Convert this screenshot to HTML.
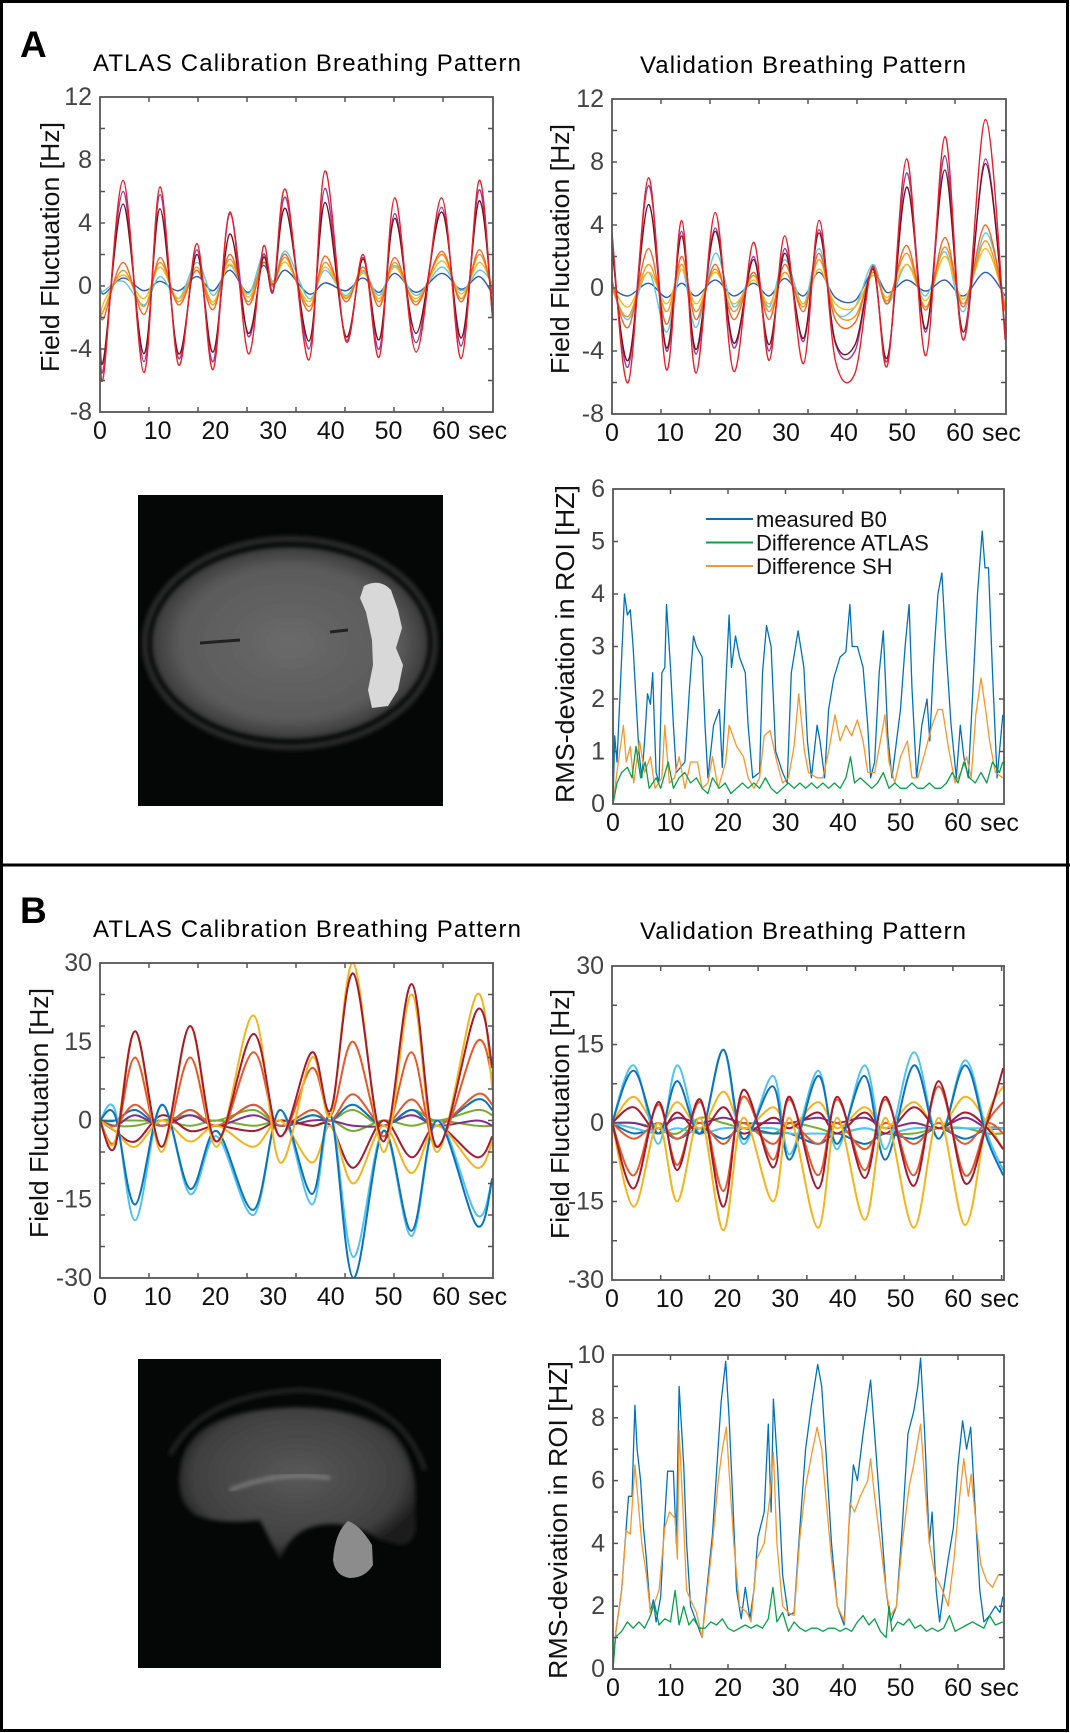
<!DOCTYPE html>
<html><head><meta charset="utf-8"><style>
html,body{margin:0;padding:0;background:#fff}
svg{display:block;font-family:"Liberation Sans",Arial,sans-serif}
</style></head><body>
<svg id="fig" xmlns="http://www.w3.org/2000/svg" width="1070" height="1733" viewBox="0 0 1070 1733">
<rect x="1.5" y="1.5" width="1066" height="1729" fill="#fff" stroke="#000" stroke-width="3"/>
<line x1="0" y1="865" x2="1070" y2="865" stroke="#000" stroke-width="3"/>
<text x="20" y="57" font-size="37" font-weight="bold">A</text>
<text x="20" y="923" font-size="37" font-weight="bold">B</text>
<text x="307" y="71" font-size="24" text-anchor="middle" textLength="428">ATLAS Calibration Breathing Pattern</text>
<text x="803" y="73" font-size="24" text-anchor="middle" textLength="326">Validation Breathing Pattern</text>
<text x="307" y="937" font-size="24" text-anchor="middle" textLength="428">ATLAS Calibration Breathing Pattern</text>
<text x="803" y="939" font-size="24" text-anchor="middle" textLength="326">Validation Breathing Pattern</text>

<g>
<defs>
<radialGradient id="brainA" cx="50%" cy="50%" r="50%"><stop offset="0" stop-color="#6a6a6a"/><stop offset="0.8" stop-color="#5a5a5a"/><stop offset="1" stop-color="#3a3a3a"/></radialGradient>
<radialGradient id="brainB" cx="50%" cy="45%" r="55%"><stop offset="0" stop-color="#585858"/><stop offset="0.8" stop-color="#404040"/><stop offset="1" stop-color="#1a1a1a"/></radialGradient>
<filter id="blr"><feGaussianBlur stdDeviation="2"/></filter>
</defs>
<rect x="138" y="495" width="305" height="311" fill="#050606"/>
<ellipse cx="290" cy="643" rx="145" ry="104" fill="none" stroke="#2a2a2a" stroke-width="6" filter="url(#blr)"/>
<ellipse cx="290" cy="643" rx="138" ry="96" fill="url(#brainA)" filter="url(#blr)"/>
<path d="M200 643 L240 640 M330 632 L348 630" stroke="#222" stroke-width="3"/>
<path d="M364 586 Q380 578 391 590 L398 610 L402 628 L396 648 L403 665 L398 690 L388 706 L372 708 L368 690 L373 665 L372 640 L366 612 L360 598 Z" fill="#d8d8d8"/>
</g>
<g>
<rect x="138" y="1359" width="303" height="309" fill="#050606"/>
<path d="M180 1470 Q185 1420 260 1410 Q340 1400 390 1430 Q420 1460 415 1510 Q420 1545 400 1545 L380 1540 Q350 1520 320 1525 Q290 1530 280 1560 L260 1520 Q220 1525 195 1515 Q175 1500 180 1470 Z" fill="url(#brainB)" filter="url(#blr)"/>
<path d="M170 1455 Q200 1395 300 1390 Q400 1395 425 1470" fill="none" stroke="#222" stroke-width="5" filter="url(#blr)"/>
<path d="M230 1490 Q280 1470 330 1478" fill="none" stroke="#8a8a8a" stroke-width="3" filter="url(#blr)"/>
<path d="M348 1521 Q360 1525 372 1545 L373 1565 Q365 1578 350 1578 Q335 1576 333 1560 Q335 1532 348 1521 Z" fill="#8c8c8c"/>
</g>
</svg>
<script>
const aCalT = [0,0.7,4.0,7.6,10.4,13.6,16.8,19.6,22.5,25.7,28.3,30.0,32.2,36.2,39.0,42.6,45.6,48.4,51.1,54.8,59.2,62.6,65.7,68];
const aCalBlue = [0,-0.5,0.5,-0.3,0.3,-0.3,0.6,-0.3,1.0,-0.4,1.3,0.1,1.0,-0.5,0.2,-0.3,0.5,-0.4,0.8,-0.4,0.8,-0.2,0.6,-0.5];
const aCalCyan = [-0.5,-0.3,0.3,-1.2,0.6,-0.8,1.5,-0.6,1.3,-0.5,2.0,0.3,2.2,-0.8,1.0,-0.6,0.9,-0.6,1.3,-0.6,1.2,-0.3,1.0,0.2];
const aCalYellow = [-2.2,-1,0.7,-0.8,1.2,-0.8,1.0,-1.0,1.4,-0.7,1.5,0.2,1.5,-1.0,1.2,-0.7,0.8,-0.8,1.2,-0.8,1.6,-0.5,1.5,0];
const aCalOrange = [-2,-1.5,1.0,-1.3,1.5,-1,1.2,-1.2,1.7,-1,1.8,0,1.8,-1.3,1.5,-0.8,1.0,-1.0,1.5,-1.0,2.0,-0.8,2.0,-0.3];
const aCalOrangeRed = [-1.5,-2,1.5,-1.8,1.8,-1.2,1.0,-1.5,2.0,-1.2,1.5,0,2.0,-1.6,1.9,-1.0,1.2,-1.3,1.8,-1.2,2.2,-1.0,2.3,-0.5];
const aCalPurple = [-3.8,-5,6.0,-4.8,5.8,-4.6,2.3,-4.8,4.6,-3.2,2.0,-0.4,5.6,-4.0,6.2,-3.4,1.8,-4.0,4.6,-3.6,5.0,-3.8,6.1,-1.8];
const aCalMaroon = [-3.5,-4.5,5.2,-4.3,4.9,-4.3,2.0,-4.2,3.3,-3.0,1.8,-0.3,4.9,-3.5,5.3,-3.2,1.7,-3.4,4.3,-3.0,4.7,-3.3,5.4,-1.5];
const aCalRed = [-4,-5.5,6.7,-5.5,6.3,-5.0,2.7,-5.3,4.7,-4.3,2.5,-0.3,6.1,-4.7,7.3,-3.5,2.0,-4.5,5.6,-4.2,5.6,-4.6,6.7,-2];
const aValT = [0,2.8,6.3,9.4,12.0,14.5,17.8,21,24.4,27.1,29.8,33,35.7,38.5,41.9,45,47.5,50.8,54.1,57.4,60.6,64.4,67.8];
const aValBlue = [0,-0.5,0.3,-0.6,0.3,-0.5,0.5,-0.5,0.3,-0.5,0.6,-0.5,1.0,-0.6,-0.8,1.0,-0.3,0.5,-0.2,0.5,-0.5,1.0,-0.5];
const aValCyan = [0,-2,1.0,-2.8,1.2,-2.5,2.2,-1.2,1.0,-1.2,1.8,-1.0,2.5,-1.5,-1.2,1.5,-1.0,1.5,-0.5,2.3,-1.5,3.5,-1];
const aValYellow = [0.2,-1.2,1.0,-1.0,1.2,-1,1.0,-1.0,0.5,-1.0,1.0,-1,1.2,-1,-1.2,0.8,-0.6,1.5,-0.8,2.0,-0.7,2.5,-1];
const aValOrange = [0,-1.8,1.5,-1.5,1.5,-1.5,1.2,-1.5,0.8,-1.5,1.0,-1.2,1.8,-1.5,-1.8,1.0,-0.8,2.2,-1.2,2.6,-1.0,3.0,-1.2];
const aValOrangeRed = [0.5,-2.5,2.5,-2.3,2.0,-2,1.5,-2,1.0,-2,1.5,-1.5,2.2,-2.0,-2.2,1.2,-1,2.7,-1.4,3.2,-1.2,4.0,-1.5];
const aValPurple = [2.8,-5,6.5,-4,3.6,-4.2,3.8,-3.8,2.0,-4.0,2.5,-3.4,3.7,-3.5,-4.0,1.3,-4.6,7.3,-2.8,8.4,-3.3,8.2,-3];
const aValMaroon = [2.5,-4.6,5.3,-3.8,3.3,-3.9,3.6,-3.5,1.8,-3.6,2.2,-3.2,3.5,-3.4,-3.6,1.2,-4.4,6.4,-2.6,7.5,-2.8,7.9,-2.8];
const aValRed = [3.5,-6.0,7.0,-5.2,4.3,-5.4,4.8,-5.3,2.9,-4.6,3.3,-4.8,4.3,-4.6,-5.4,1.4,-4.9,8.2,-4.3,9.6,-3.3,10.7,-3.3];
const aRmsBlueT = [0,0.3,0.7,1.3,2.0,2.5,3.0,3.5,4.0,4.5,5.0,5.5,6.0,6.5,6.9,7.2,7.5,8.0,8.5,9.0,9.3,10,10.5,11,12.5,13.3,14,14.5,15.5,16,16.5,17.5,18.5,19,19.7,20.2,20.6,21.3,22,23,23.5,24.3,25.5,26,26.7,27.5,28.3,29.5,30.3,31.0,32.2,33.2,33.8,34.5,35.5,36.0,36.8,37.5,38.4,39.5,40.5,41.2,41.6,42.5,43.5,44.3,44.8,45.5,46.3,47.0,47.8,48.5,50,50.8,51.5,52.0,52.8,53.7,54.6,55.1,55.8,56.5,57.2,57.9,58.8,59.7,60.4,61,61.8,62.5,63.4,64.2,64.7,65.3,66,66.8,67.8];
const aRmsBlueV = [0,1.3,0.8,2.3,4.0,3.6,3.7,3.0,2.0,1.0,0.5,1.2,2.1,1.9,2.5,1.5,0.6,0.4,2.5,2.6,3.8,2.6,1.5,0.6,0.8,2.2,3.2,3.0,2.8,1.5,0.5,1.5,1.8,0.7,2.5,3.6,2.6,3.2,2.8,2.5,1.5,0.5,0.6,2.5,3.4,3.0,1.0,0.6,0.4,2.5,3.3,2.6,1.2,0.5,1.5,1.2,0.5,1.8,2.4,2.8,2.9,3.8,3.0,3.0,2.6,1.5,0.5,0.8,2.5,3.3,1.3,0.5,1.8,3.0,3.8,2.2,0.5,1.5,2.0,1.2,2.8,4.0,4.4,3.0,1.5,0.5,1.5,0.9,0.5,2.0,4.0,5.2,4.5,4.5,2.5,0.5,1.7];
const aRmsOrangeT = [0,0.8,1.8,2.3,3.0,3.6,4.6,5.5,6.5,7.3,8.5,9.0,9.8,10.7,11.5,12.5,13.5,14.7,15.5,16.5,17.3,18.3,19.6,20.2,21.5,22.7,23.5,24.5,25.5,26.3,27.3,28.5,29.5,30.5,31.5,32.3,33.3,34.0,35.5,36.5,37.5,38.6,39.5,40.5,41.5,42.5,43.5,44.3,45.5,46.5,47.3,48.0,49.0,50.0,51.2,52.0,53,54.3,55.5,56.5,57.3,58.3,59.5,60.5,61.5,62.3,63.1,64.0,64.8,65.5,66.5,67.8];
const aRmsOrangeV = [0,0.7,1.5,0.8,1.1,0.4,1.2,0.6,0.9,0.3,0.5,1.5,0.4,0.5,0.9,0.3,0.8,0.8,0.3,0.4,0.9,0.3,0.8,1.5,1.1,0.9,0.5,0.3,0.5,1.3,1.4,0.8,0.4,0.5,1.1,2.1,1.0,0.6,0.5,0.5,1.0,1.7,1.2,1.5,1.3,1.6,1.2,0.6,0.6,1.2,1.7,0.8,0.4,0.9,1.2,0.5,0.5,1.0,1.5,1.8,1.8,1.1,0.4,0.6,0.9,0.5,1.7,2.4,1.8,1.2,0.6,0.5];
const aRmsGreenT = [0,0.7,1.5,2.5,3.3,4.0,4.8,5.6,6.3,7.5,8.3,9.6,10.5,11.5,12.5,13.5,14.5,15.5,16.5,17.3,18.5,19.5,20.5,21.5,22.5,23.5,24.5,25.5,26.5,27.5,28.5,29.5,30.5,31.5,32.5,33.5,34.5,35.5,36.5,37.5,38.5,39.5,40.5,41.3,42.0,43,44,45,46,47,48,49,50,51,52,53,54,55,56,57,58,59,60,61,62,63,64,65,66,67.2,67.8];
const aRmsGreenV = [0,0.4,0.6,0.7,0.5,1.1,0.5,0.8,0.3,0.5,0.3,0.8,0.3,0.5,0.6,0.4,0.5,0.3,0.2,0.5,0.3,0.4,0.2,0.3,0.4,0.3,0.4,0.3,0.5,0.3,0.2,0.3,0.4,0.3,0.4,0.3,0.4,0.3,0.4,0.3,0.4,0.3,0.5,0.9,0.4,0.5,0.4,0.3,0.4,0.6,0.3,0.4,0.3,0.3,0.4,0.3,0.3,0.4,0.3,0.3,0.4,0.6,0.4,0.8,0.5,0.4,0.6,0.4,0.8,0.6,0.8];
const bCalT = [0,2.6,6.1,10.7,15.6,20.2,26.6,31.2,36.7,40.0,43.9,49.1,54.0,58.4,65.3,68];
const bCalGreen2 = [0,-1,-1,0,-1,0,-1,0,-1,0,-2,0,-1,0,-1,-1];
const bCalGreen = [0,0,0,0,1,0,2,-1,1,0,2,-1,2,0,2,1];
const bCalPurple = [0,-1,1,-1,1,-1,1,-1,0,0,-1,-1,1,-1,0,-1];
const bCalBlueSmall = [0,0,2,-1,2,-1,3,-1,1,0,3,-1,2,-1,4,2];
const bCalOrangeSmall = [0,-1,3,-1,2,-1,3,-1,2,0,5,-1,4,-1,5,3];
const bCalRedNeg = [0,-2,-4,1,-2,-1,-2,0,-1,-1,-9,0,-7,-1,-7,-3];
const bCalYellowNeg = [0,-2,-5,0,-4,-1,-5,0,-8,-1,-12,-1,-10,-1,-9,-4];
const bCalLightBlue = [0,2,-19,3,-14,-3,-18,2,-16,1,-26,-2,-22,0,-18,-11];
const bCalBlue = [0,1,-16,3,-13,-2,-17,2,-14,1,-30,-2,-21,0,-20,-11];
const bCalOrange = [0,-4,12,-5,12,-4,13,-3,10,1,15,-3,13,-5,15,8];
const bCalYellow = [0,-4,17,-6,18,-5,20,-8,12,1,30,-6,24,-6,24,6];
const bCalDarkRed = [0,-5,17,-5,18,-4,16.5,-3,13,2,28,-4,26,-5,21,10];
const bValT = [0,3.8,8.0,11.3,15.3,19.3,22.7,27.9,30.8,35.7,39.0,43.8,47.4,52.3,56.6,61.2,65.0,67.8];
const bValGreen = [0,0,-1,-2,1,0,-1,-2,0,-1,-2,-1,-2,-2,-1,-1,-2,-2];
const bValPurple = [0,0,-1,1,0,1,0,0,0,1,0,1,-1,0,-1,1,-1,-1];
const bValBlue2 = [0,-2,-1,-3,-1,-3,-1,-2,-2,-4,-2,-4,-2,-3,-1,-3,-1,-1];
const bValCyan2 = [0,-1,-2,-1,-2,-1,-1,-1,-2,-2,-2,-1,-2,-1,-1,-1,-1,-1];
const bValOrangeNeg = [0,-3,0,-3,0,-4,0,-4,0,-4,0,-5,0,-4,0,-4,0,-2];
const bValYellowPos = [0,5,-1,4,-1,6,-1,3,-1,4,-1,3,-1,4,-1,5,0,-5];
const bValRedPos = [0,3,-2,2,-2,3,-2,1,-1,2,-2,2,-2,3,-1,2,-1,-5];
const bValLightBlue = [0,11,-4,11,-2,14,-4,9,-6,10,-5,11,-5,13.5,-3,12,-2,-9];
const bValBlue = [0,10,-2,8,-2,14,-3,7,-7,9,-4,9,-7,11,-3,11,-3,-10];
const bValYellow = [0,-16,0,-15,1,-20.5,1,-15,1,-20,1,-18.5,1,-20,1,-19.5,1,7];
const bValOrange = [0,-10,3.5,-8,4,-13,5,-7,4.5,-10,4.5,-9,4.5,-10,7,-10,0,4];
const bValDarkRed = [0,-12.5,4,-9,4.5,-16,6.3,-8.5,5,-12.5,5,-10.5,5,-12,8,-11.5,0,10.5];
const bRmsBlueT = [0,0.5,1.5,2.3,2.7,3.3,3.8,4.2,4.8,5.3,5.8,6.5,7.0,7.5,8.3,8.8,9.5,10.5,11.0,11.5,12.3,12.8,13.5,14.5,15.5,16.3,17.3,18.2,18.8,19.6,20.2,20.8,21.5,22.3,23.0,23.8,24.5,25.2,26.3,27.0,27.5,27.9,28.6,29.5,30.5,31.5,32.5,33.5,34.5,35.6,36.3,37.0,38.0,39.0,40.2,41.0,41.8,42.5,43.5,44.8,45.5,46.5,47.5,48.3,49.3,50.3,51.3,52.3,53.0,53.5,54.2,55.0,55.5,56.2,56.8,57.5,58.3,59.2,60.0,60.8,61.5,62.2,63.0,63.8,64.5,65.5,66.5,67.3,67.8];
const bRmsBlueV = [0,1.2,2.5,4.5,5.5,5.5,8.4,7.0,6.0,4.5,3.5,1.8,2.2,1.5,2.3,4.2,6.3,6.3,4.0,9.0,6.5,4.0,2.0,1.5,1.0,2.5,4.3,6.8,8.5,9.8,8.0,5.5,2.5,1.6,2.6,1.6,2.5,4.2,5.0,7.8,5.0,8.6,6.5,3.0,1.7,1.8,4.5,7.0,8.4,9.7,9.0,7.0,4.0,2.0,1.4,4.5,6.5,6.0,7.5,9.2,7.5,5.0,2.5,1.5,2.0,4.5,7.5,8.2,9.0,9.9,7.5,4.0,5.0,2.5,1.5,2.5,3.5,4.5,6.5,7.9,7.0,7.7,5.0,2.5,1.5,1.7,2.0,1.8,2.3];
const bRmsOrangeT = [0,0.5,1.5,2.3,3.0,3.8,4.3,5.0,5.8,6.5,7.2,8.0,9.0,9.8,10.8,11.2,11.5,12.2,12.8,13.5,14.5,15.5,16.3,17.3,18.3,19.0,19.7,20.3,21.0,22.0,23.3,24.0,25.0,26.3,27.3,27.9,28.5,29.5,30.5,31.5,32.5,33.5,34.5,35.5,36.3,37.0,38.0,39.0,40.3,41.2,42.0,43.0,44.3,44.8,45.5,46.5,47.5,48.3,49.3,50.3,51.5,52.3,53.5,54.2,55.0,56.0,57.3,58.3,59.3,60.3,61.0,61.8,62.3,63.2,64.0,65.0,66.0,67.0,67.8];
const bRmsOrangeV = [0,1.2,2.5,4.4,4.3,6.5,5.5,4.0,3.0,1.8,2.1,2.5,4.5,5.0,4.8,3.5,7.6,5.0,2.5,2.2,1.8,1.0,2.3,4.0,6.0,7.0,7.7,6.0,4.0,2.0,1.8,1.5,3.5,4.0,5.5,6.9,4.0,2.0,1.8,1.7,4.2,5.8,6.8,7.7,7.0,5.5,3.5,2.0,1.5,5.3,5.0,5.5,6.0,6.7,5.5,4.0,2.5,1.7,2.0,4.0,5.8,6.5,7.8,6.0,4.0,3.0,2.5,2.0,3.5,5.5,6.7,5.5,6.2,4.5,3.3,2.8,2.6,3.0,3.0];
const bRmsGreenT = [0,0.4,1.5,2.5,3.5,4.5,5.5,6.5,7.2,8.0,9.0,10.0,10.8,11.5,12.3,13.2,14.0,15.0,16.0,17.0,18.0,19.0,20.0,21.0,22.0,23.0,24.0,25.0,26.0,27.0,27.8,28.5,29.5,30.5,31.5,32.5,33.5,34.5,35.5,36.5,37.5,38.5,39.5,40.5,41.5,42.5,43.5,44.5,45.5,46.5,47.5,48.0,48.5,49.5,50.5,51.5,52.5,53.5,54.5,55.5,56.5,57.5,58.5,59.5,60.5,61.5,62.5,63.5,64.5,65.5,66.5,67.8];
const bRmsGreenV = [0,1.0,1.2,1.5,1.3,1.5,1.3,1.7,2.1,1.4,1.6,1.5,2.5,1.4,2.0,1.4,1.6,1.3,1.3,1.5,1.4,1.6,1.3,1.2,1.3,1.4,1.3,1.4,1.3,1.6,2.6,1.5,1.8,1.2,1.5,1.3,1.2,1.3,1.3,1.2,1.3,1.3,1.2,1.3,1.2,1.5,1.7,1.4,1.6,1.2,1.0,2.0,1.2,1.5,1.4,1.6,1.3,1.4,1.2,1.3,1.2,1.3,1.7,1.2,1.3,1.4,1.5,1.4,1.3,1.7,1.4,1.5];
const xTickLabels = [0,10,20,30,40,50,60];
const aFieldYLabels = [12,8,4,0,-4,-8];
const bFieldYLabels = [30,15,0,-15,-30];
const aRmsYLabels = [6,5,4,3,2,1,0];
const bRmsYLabels = [10,8,6,4,2,0];
const legendLabels = ["measured B0","Difference ATLAS","Difference SH"];

const NS = "http://www.w3.org/2000/svg";
const svg = document.getElementById('fig');
function mk(tag, attrs, parent){const e=document.createElementNS(NS,tag);for(const k in attrs)e.setAttribute(k,attrs[k]);(parent||svg).appendChild(e);return e;}

function pathD(pts, smooth){
  if(!smooth){let d='';pts.forEach((p,i)=>{d+=(i?'L':'M')+p[0].toFixed(1)+' '+p[1].toFixed(1);});return d;}
  let d='M'+pts[0][0].toFixed(1)+' '+pts[0][1].toFixed(1);
  for(let i=0;i<pts.length-1;i++){
    const p0=pts[Math.max(0,i-1)],p1=pts[i],p2=pts[i+1],p3=pts[Math.min(pts.length-1,i+2)];
    const k=1/6;
    const c1x=p1[0]+(p2[0]-p0[0])*k, c1y=p1[1]+(p2[1]-p0[1])*k;
    const c2x=p2[0]-(p3[0]-p1[0])*k, c2y=p2[1]-(p3[1]-p1[1])*k;
    d+='C'+c1x.toFixed(1)+' '+c1y.toFixed(1)+' '+c2x.toFixed(1)+' '+c2y.toFixed(1)+' '+p2[0].toFixed(1)+' '+p2[1].toFixed(1);
  }
  return d;
}

function chart(c){
  const g = mk('g',{});
  
  
  const sx = t => c.x0 + t*c.pxPerSec;
  const sy = v => c.y1 - (v - c.ymin)/(c.ymax - c.ymin)*(c.y1 - c.y0);
  const clip = 'clip-'+c.name;
  const cp = mk('clipPath',{id:clip},g); mk('rect',{x:c.x0,y:c.y0,width:c.x1-c.x0,height:c.y1-c.y0},cp);
  const sg = mk('g',{'clip-path':'url(#'+clip+')'},g);
  c.series.forEach(s=>{
    const pts = s.t.map((t,i)=>[sx(t), sy(s.v[i])]);
    const p = mk('path',{d:pathD(pts,c.smooth),fill:'none',stroke:s.color,'stroke-width':s.w||1.4,'stroke-linejoin':'round'},sg);
    
    
  });
  const ax = mk('rect',{x:c.x0,y:c.y0,width:c.x1-c.x0,height:c.y1-c.y0,fill:'none',stroke:'#555','stroke-width':1.8},g);
  
  
  const tl=5;
  for(let x=c.x0+c.xTickStep; x<c.x1-2; x+=c.xTickStep){
    mk('line',{x1:x,y1:c.y1,x2:x,y2:c.y1-tl,stroke:'#555','stroke-width':1.5},g);
    mk('line',{x1:x,y1:c.y0,x2:x,y2:c.y0+tl,stroke:'#555','stroke-width':1.5},g);
  }
  for(let i=1;i<c.yTickN;i++){
    const y=c.y0+i*(c.y1-c.y0)/c.yTickN;
    mk('line',{x1:c.x0,y1:y,x2:c.x0+tl,y2:y,stroke:'#555','stroke-width':1.5},g);
    mk('line',{x1:c.x1,y1:y,x2:c.x1-tl,y2:y,stroke:'#555','stroke-width':1.5},g);
  }
  c.yLabels.forEach(v=>{
    const t = mk('text',{x:c.x0-8,y:sy(v)+8,'font-size':25,fill:'#444','text-anchor':'end'},g);
    t.textContent=v;
    
    
  });
  xTickLabels.forEach(v=>{
    const t = mk('text',{x:sx(v),y:c.y1+27,'font-size':25,fill:'#111','text-anchor':'middle'},g);
    t.textContent=v;
    
    
  });
  const sec = mk('text',{x:sx(60)+22,y:c.y1+27,'font-size':25,fill:'#111'},g);
  sec.textContent='sec';
  
  
  const yl = mk('text',{x:0,y:0,'font-size':26,fill:'#111','text-anchor':'middle',textLength:c.ylabLen,lengthAdjust:'spacingAndGlyphs',
    transform:'translate('+(c.ylabX+9)+','+c.ylabY+') rotate(-90)'},g);
  yl.textContent=c.ylab;
  
  
  return {g,sx,sy};
}

const A1=['#2a5db0','#5ec8e0','#fbb917','#f7941d','#f26522','#9b3a9b','#7a1020','#e8202a'];
function S(t,vs,cols,names){return vs.map((v,i)=>({t:t,v:v,color:cols[i],name:names[i]}));}

chart({name:'chart-a-calibration',smooth:true,x0:100,x1:493,y0:97,y1:412,ymin:-8,ymax:12,pxPerSec:5.77,xTickStep:49,yTickN:10,
  yLabels:aFieldYLabels,ylab:'Field Fluctuation [Hz]',ylabX:50,ylabY:247,ylabLen:250,
  series:S(aCalT,[aCalBlue,aCalCyan,aCalYellow,aCalOrange,aCalOrangeRed,aCalPurple,aCalMaroon,aCalRed],A1,
    ['line-blue','line-cyan','line-yellow','line-orange','line-orange-red','line-purple','line-maroon','line-red'])});
chart({name:'chart-a-validation',smooth:true,x0:612,x1:1006,y0:99,y1:414,ymin:-8,ymax:12,pxPerSec:5.8,xTickStep:49,yTickN:10,
  yLabels:aFieldYLabels,ylab:'Field Fluctuation [Hz]',ylabX:560,ylabY:249,ylabLen:250,
  series:S(aValT,[aValBlue,aValCyan,aValYellow,aValOrange,aValOrangeRed,aValPurple,aValMaroon,aValRed],A1,
    ['line-blue','line-cyan','line-yellow','line-orange','line-orange-red','line-purple','line-maroon','line-red'])});

const rmsCols=['#0072bd','#0aa04a','#f7962c'];
chart({name:'chart-a-rms',x0:613,x1:1004,y0:489,y1:804,ymin:0,ymax:6,pxPerSec:5.75,xTickStep:57.5,yTickN:6,
  yLabels:aRmsYLabels,ylab:'RMS-deviation in ROI [HZ]',ylabX:565,ylabY:644,ylabLen:318,
  series:[{t:aRmsBlueT,v:aRmsBlueV,color:rmsCols[0],name:'line-measured-b0',w:1.3},
          {t:aRmsOrangeT,v:aRmsOrangeV,color:rmsCols[2],name:'line-difference-sh',w:1.3},
          {t:aRmsGreenT,v:aRmsGreenV,color:rmsCols[1],name:'line-difference-atlas',w:1.3}]});
const lg = mk('g',{});


legendLabels.forEach((l,i)=>{
  const y=519+i*23.5;
  const ln = mk('line',{x1:706,y1:y,x2:753,y2:y,stroke:rmsCols[i],'stroke-width':2},lg);
  
  
  const t = mk('text',{x:756,y:y+8,'font-size':22,fill:'#111'},lg);
  t.textContent=l;
  
  
});

const B1=['#77ac30','#77ac30','#7e2f8e','#0b72bd','#e8572a','#a6192e','#f4b41a','#4fc3f0','#0b72bd','#e8572a','#f4b41a','#a6192e'];
chart({name:'chart-b-calibration',smooth:true,x0:100,x1:493,y0:963,y1:1278,ymin:-30,ymax:30,pxPerSec:5.77,xTickStep:49,yTickN:10,
  yLabels:bFieldYLabels,ylab:'Field Fluctuation [Hz]',ylabX:39,ylabY:1113,ylabLen:250,
  series:S(bCalT,[bCalGreen2,bCalGreen,bCalPurple,bCalBlueSmall,bCalOrangeSmall,bCalRedNeg,bCalYellowNeg,bCalLightBlue,bCalBlue,bCalOrange,bCalYellow,bCalDarkRed],B1,
    ['line-green-2','line-green','line-purple','line-blue-small','line-orange-small','line-red-neg','line-yellow-neg','line-light-blue','line-blue','line-orange','line-yellow','line-dark-red']).map(s=>(s.w=2,s))});
const B2=['#77ac30','#7e2f8e','#0b72bd','#4fc3f0','#e8572a','#f4b41a','#a6192e','#4fc3f0','#0b72bd','#f4b41a','#e8572a','#a6192e'];
chart({name:'chart-b-validation',smooth:true,x0:612,x1:1004,y0:966,y1:1280,ymin:-30,ymax:30,pxPerSec:5.77,xTickStep:48.7,yTickN:8,
  yLabels:bFieldYLabels,ylab:'Field Fluctuation [Hz]',ylabX:560,ylabY:1114,ylabLen:250,
  series:S(bValT,[bValGreen,bValPurple,bValBlue2,bValCyan2,bValOrangeNeg,bValYellowPos,bValRedPos,bValLightBlue,bValBlue,bValYellow,bValOrange,bValDarkRed],B2,
    ['line-green','line-purple','line-blue-2','line-cyan-2','line-orange-neg','line-yellow-pos','line-red-pos','line-light-blue','line-blue','line-yellow','line-orange','line-dark-red']).map(s=>(s.w=2,s))});
chart({name:'chart-b-rms',x0:613,x1:1004,y0:1355,y1:1669,ymin:0,ymax:10,pxPerSec:5.75,xTickStep:57.5,yTickN:10,
  yLabels:bRmsYLabels,ylab:'RMS-deviation in ROI [HZ]',ylabX:558,ylabY:1520,ylabLen:318,
  series:[{t:bRmsBlueT,v:bRmsBlueV,color:rmsCols[0],name:'line-measured-b0',w:1.3},
          {t:bRmsOrangeT,v:bRmsOrangeV,color:rmsCols[2],name:'line-difference-sh',w:1.3},
          {t:bRmsGreenT,v:bRmsGreenV,color:rmsCols[1],name:'line-difference-atlas',w:1.3}]});
</script>
</body></html>
